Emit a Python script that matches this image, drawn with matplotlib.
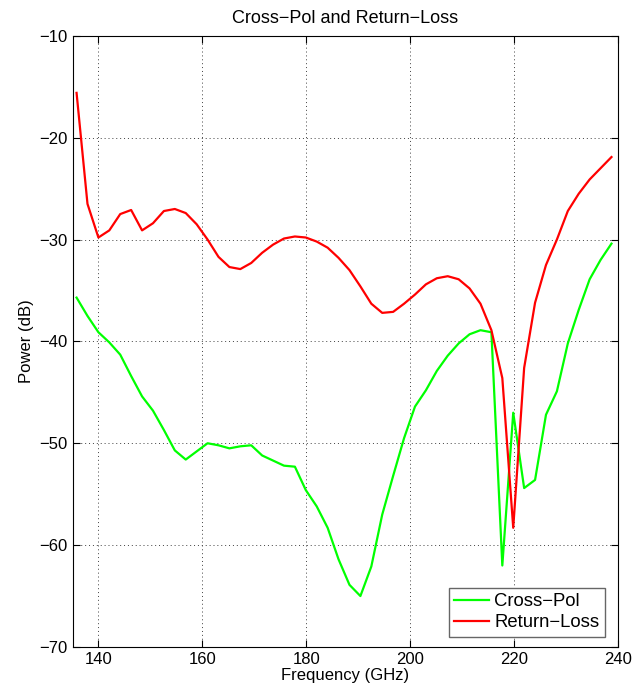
import matplotlib.pyplot as plt

plt.rcParams['font.family'] = ['Liberation Sans', 'DejaVu Sans']

# Frequency points (GHz)
freq = [135.8, 137.9, 140.0, 142.1, 144.2, 146.3, 148.4, 150.5, 152.6, 154.7,
        156.8, 158.9, 161.0, 163.1, 165.2, 167.3, 169.4, 171.5, 173.6, 175.7,
        177.8, 179.9, 182.0, 184.1, 186.2, 188.3, 190.4, 192.5, 194.6, 196.7,
        198.8, 200.9, 203.0, 205.1, 207.2, 209.3, 211.4, 213.5, 215.6, 217.7,
        219.8, 221.9, 224.0, 226.1, 228.2, 230.3, 232.4, 234.5, 236.6, 238.7]

# Cross-pol (dB)
cross_pol = [-35.7, -37.5, -39.1, -40.1, -41.3, -43.4, -45.4, -46.8, -48.7, -50.7,
             -51.6, -50.8, -50.0, -50.2, -50.5, -50.3, -50.2, -51.2, -51.7, -52.2,
             -52.3, -54.6, -56.2, -58.3, -61.4, -63.9, -65.0, -62.1, -57.0, -53.2,
             -49.5, -46.4, -44.8, -42.9, -41.4, -40.2, -39.3, -38.9, -39.1, -62.0,
             -47.0, -54.4, -53.6, -47.2, -44.9, -40.2, -36.9, -33.9, -32.0, -30.4]

# Return-loss (dB)
return_loss = [-15.6, -26.5, -29.8, -29.1, -27.5, -27.1, -29.1, -28.4, -27.2, -27.0,
               -27.4, -28.5, -30.0, -31.7, -32.7, -32.9, -32.3, -31.3, -30.5, -29.9,
               -29.7, -29.8, -30.2, -30.8, -31.8, -33.0, -34.6, -36.3, -37.2, -37.1,
               -36.3, -35.4, -34.4, -33.8, -33.6, -33.9, -34.8, -36.3, -38.9, -43.6,
               -58.3, -42.6, -36.2, -32.5, -30.0, -27.2, -25.5, -24.1, -23.0, -21.9]

fig = plt.figure(figsize=(6.44, 6.89), dpi=100)
ax = fig.add_axes([0.113, 0.061, 0.847, 0.887])

ax.plot(freq, cross_pol, color='#00ff00', linewidth=1.6, label='Cross\u2212Pol')
ax.plot(freq, return_loss, color='#ff0000', linewidth=1.6, label='Return\u2212Loss')

# Оси и сетка в стиле MATLAB
ax.set_xlim(135.07, 240)
ax.set_ylim(-70, -10)
ax.set_xticks([140, 160, 180, 200, 220, 240])
ax.set_yticks([-70, -60, -50, -40, -30, -20, -10])
ax.tick_params(direction='in', top=True, right=True, labelsize=12, length=5)
ax.grid(True, color='0.25', linestyle=(0, (1, 3)), linewidth=0.7)

ax.set_xlabel('Frequency (GHz)', fontsize=12, labelpad=1)
ax.set_ylabel('Power (dB)', fontsize=12)
ax.set_title('Cross\u2212Pol and Return\u2212Loss', fontsize=13, pad=9)

leg = ax.legend(loc='lower right', bbox_to_anchor=(0.976, 0.017), borderaxespad=0,
                fontsize=13.3, fancybox=False, framealpha=1, edgecolor='0.4',
                handlelength=1.9, handletextpad=0.28, labelspacing=0.2, borderpad=0.3)

plt.savefig('out.png', dpi=100)
plt.close()
